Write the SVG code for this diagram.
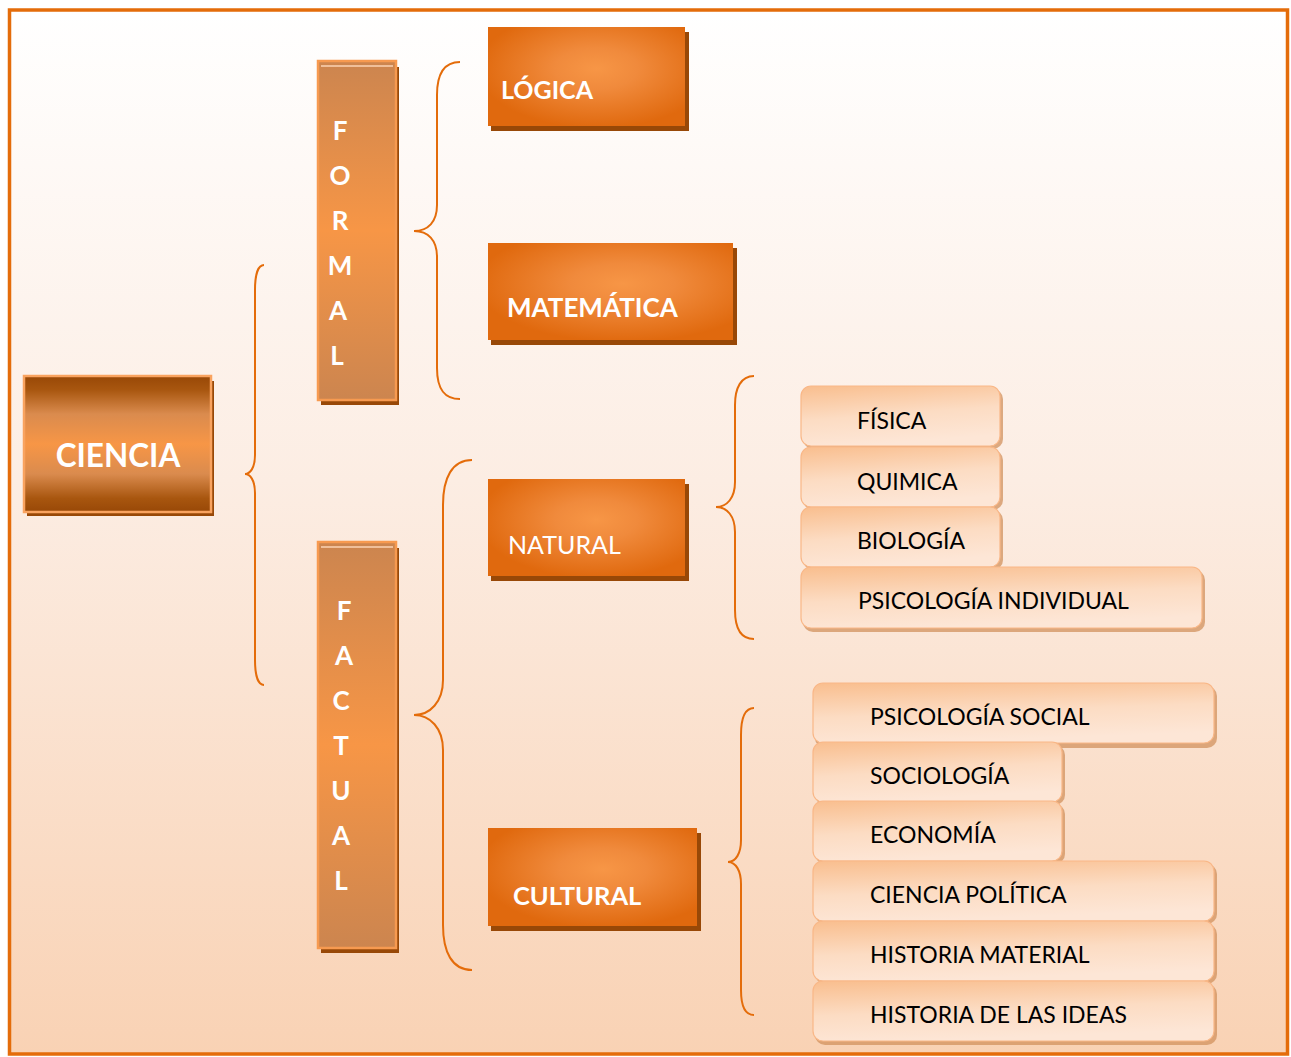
<svg xmlns="http://www.w3.org/2000/svg" width="1291" height="1057" viewBox="0 0 1291 1057">
<defs>
<linearGradient id="bg" x1="0" y1="0" x2="0" y2="1">
<stop offset="0" stop-color="#FFFFFF"/>
<stop offset="0.45" stop-color="#FCEDE3"/>
<stop offset="1" stop-color="#F9D2B4"/>
</linearGradient>
<linearGradient id="gCiencia" x1="0" y1="0" x2="0" y2="1">
<stop offset="0" stop-color="#984807"/>
<stop offset="0.1" stop-color="#A8560F"/>
<stop offset="0.28" stop-color="#DA8B4E"/>
<stop offset="0.5" stop-color="#F79646"/>
<stop offset="0.72" stop-color="#DA8B4E"/>
<stop offset="0.9" stop-color="#A8560F"/>
<stop offset="1" stop-color="#984807"/>
</linearGradient>
<linearGradient id="gVert" x1="0" y1="0" x2="0" y2="1">
<stop offset="0" stop-color="#CC854F"/>
<stop offset="0.5" stop-color="#F79646"/>
<stop offset="1" stop-color="#CC854F"/>
</linearGradient>
<radialGradient id="gOrange" cx="0.55" cy="0.42" r="0.6">
<stop offset="0" stop-color="#F79646"/>
<stop offset="0.35" stop-color="#F08A3C"/>
<stop offset="1" stop-color="#E0690E"/>
</radialGradient>
<linearGradient id="gPill" x1="0" y1="0" x2="0.25" y2="1">
<stop offset="0" stop-color="#F9BE8E"/>
<stop offset="0.55" stop-color="#FCDCC3"/>
<stop offset="1" stop-color="#FDE6D6"/>
</linearGradient>
<style>
.brace{fill:none;stroke:#E46C0A;stroke-width:2}
.shadow{fill:#984807}
.big{font-family:Lato,"Liberation Sans",sans-serif;fill:#FFFFFF;font-weight:bold}
.nat{font-family:Lato,"Liberation Sans",sans-serif;fill:#FFFFFF;font-weight:normal}
.pilltxt{font-family:Lato,"Liberation Sans",sans-serif;fill:#000000;font-size:23px}
.pill{fill:url(#gPill);stroke:#F9B787;stroke-width:1.2}
.pillsh{fill:#D2925E;opacity:0.75}
.letter{font-family:Lato,"Liberation Sans",sans-serif;fill:#FFFFFF;font-weight:bold;font-size:26px;text-anchor:middle}
</style>
</defs>

<rect x="9.5" y="10" width="1278" height="1044" fill="url(#bg)" stroke="#E46C0A" stroke-width="3.5"/>

<g id="connectors">
<path class="brace" d="M264,265 C258,265 255,275 255,290 L255,455 C255,468 250,474 245,474 C250,474 255,480 255,493 L255,660 C255,675 258,685 264,685"/>
<path class="brace" d="M460,62 C445,62 437,72 437,95 L437,205 C437,222 428,231 414,231 C428,231 437,240 437,257 L437,368 C437,390 445,399 460,399"/>
<path class="brace" d="M472,460 C452,460 443,478 443,505 L443,680 C443,702 430,715 414,715 C430,715 443,728 443,750 L443,925 C443,952 452,970 472,970"/>
<path class="brace" d="M754,376 C741,376 735,388 735,405 L735,482 C735,498 727,507 716,507 C727,507 735,516 735,532 L735,610 C735,628 741,639 754,639"/>
<path class="brace" d="M754,708 C745,708 741,718 741,735 L741,840 C741,853 736,862 728,862 C736,862 741,871 741,884 L741,990 C741,1005 745,1015 754,1015"/>
</g>

<g id="ciencia">
<rect class="shadow" x="27" y="381" width="187" height="135"/>
<rect x="24" y="376" width="187" height="136" fill="url(#gCiencia)" stroke="#F9A35F" stroke-width="2.5"/>
<text class="big" x="118" y="467" font-size="31.5" text-anchor="middle">CIENCIA</text>
</g>

<g id="formal">
<rect class="shadow" x="321" y="67" width="78" height="338"/>
<rect x="318" y="61" width="78" height="339" fill="url(#gVert)" stroke="#F79A50" stroke-width="2.5"/>
<line x1="321" y1="66" x2="393" y2="66" stroke="#FBD3B3" stroke-width="1.5"/>
<text class="letter" x="340" y="140">F</text>
<text class="letter" x="340" y="185">O</text>
<text class="letter" x="340" y="230">R</text>
<text class="letter" x="340" y="275">M</text>
<text class="letter" x="338" y="320">A</text>
<text class="letter" x="337" y="365">L</text>
</g>

<g id="factual">
<rect class="shadow" x="321" y="548" width="78" height="405"/>
<rect x="318" y="542" width="78" height="406" fill="url(#gVert)" stroke="#F79A50" stroke-width="2.5"/>
<line x1="321" y1="547" x2="393" y2="547" stroke="#FBD3B3" stroke-width="1.5"/>
<text class="letter" x="344" y="620">F</text>
<text class="letter" x="344" y="665">A</text>
<text class="letter" x="341" y="710">C</text>
<text class="letter" x="341" y="755">T</text>
<text class="letter" x="341" y="800">U</text>
<text class="letter" x="341" y="845">A</text>
<text class="letter" x="341" y="890">L</text>
</g>

<g id="logica">
<rect class="shadow" x="491" y="32" width="198" height="99"/>
<rect x="488" y="27" width="197" height="99" fill="url(#gOrange)"/>
<text class="big" x="501" y="99" font-size="25">LÓGICA</text>
</g>

<g id="matematica">
<rect class="shadow" x="491" y="248" width="246" height="97"/>
<rect x="488" y="243" width="245" height="97" fill="url(#gOrange)"/>
<text class="big" x="507" y="317" font-size="26">MATEMÁTICA</text>
</g>

<g id="natural">
<rect class="shadow" x="491" y="484" width="198" height="97"/>
<rect x="488" y="479" width="197" height="97" fill="url(#gOrange)"/>
<text class="nat" x="508" y="554" font-size="25">NATURAL</text>
</g>

<g id="cultural">
<rect class="shadow" x="491" y="833" width="210" height="98"/>
<rect x="488" y="828" width="209" height="98" fill="url(#gOrange)"/>
<text class="big" x="513" y="905" font-size="25.5">CULTURAL</text>
</g>

<g id="fisica">
<rect class="pillsh" x="803" y="389" width="200" height="60" rx="10"/>
<rect class="pill" x="801" y="386" width="199" height="60" rx="10"/>
<text class="pilltxt" x="857" y="429">FÍSICA</text>
</g>
<g id="quimica">
<rect class="pillsh" x="803" y="450" width="200" height="60" rx="10"/>
<rect class="pill" x="801" y="447" width="199" height="60" rx="10"/>
<text class="pilltxt" x="857" y="490">QUIMICA</text>
</g>
<g id="biologia">
<rect class="pillsh" x="803" y="510" width="200" height="60" rx="10"/>
<rect class="pill" x="801" y="507" width="199" height="60" rx="10"/>
<text class="pilltxt" x="857" y="549">BIOLOGÍA</text>
</g>
<g id="psicologia-individual">
<rect class="pillsh" x="803" y="570" width="402" height="62" rx="10"/>
<rect class="pill" x="801" y="567" width="401" height="61" rx="10"/>
<text class="pilltxt" x="858" y="609">PSICOLOGÍA INDIVIDUAL</text>
</g>

<g id="psicologia-social">
<rect class="pillsh" x="815" y="686" width="402" height="62" rx="10"/>
<rect class="pill" x="813" y="683" width="401" height="60" rx="10"/>
<text class="pilltxt" x="870" y="725">PSICOLOGÍA SOCIAL</text>
</g>
<g id="sociologia">
<rect class="pillsh" x="815" y="745" width="250" height="60" rx="10"/>
<rect class="pill" x="813" y="742" width="249" height="60" rx="10"/>
<text class="pilltxt" x="870" y="784">SOCIOLOGÍA</text>
</g>
<g id="economia">
<rect class="pillsh" x="815" y="804" width="250" height="60" rx="10"/>
<rect class="pill" x="813" y="801" width="249" height="60" rx="10"/>
<text class="pilltxt" x="870" y="843">ECONOMÍA</text>
</g>
<g id="ciencia-politica">
<rect class="pillsh" x="815" y="864" width="402" height="60" rx="10"/>
<rect class="pill" x="813" y="861" width="401" height="60" rx="10"/>
<text class="pilltxt" x="870" y="903">CIENCIA POLÍTICA</text>
</g>
<g id="historia-material">
<rect class="pillsh" x="815" y="924" width="402" height="60" rx="10"/>
<rect class="pill" x="813" y="921" width="401" height="60" rx="10"/>
<text class="pilltxt" x="870" y="963">HISTORIA MATERIAL</text>
</g>
<g id="historia-ideas">
<rect class="pillsh" x="815" y="984" width="402" height="61" rx="10"/>
<rect class="pill" x="813" y="981" width="401" height="60" rx="10"/>
<text class="pilltxt" x="870" y="1023">HISTORIA DE LAS IDEAS</text>
</g>
</svg>
